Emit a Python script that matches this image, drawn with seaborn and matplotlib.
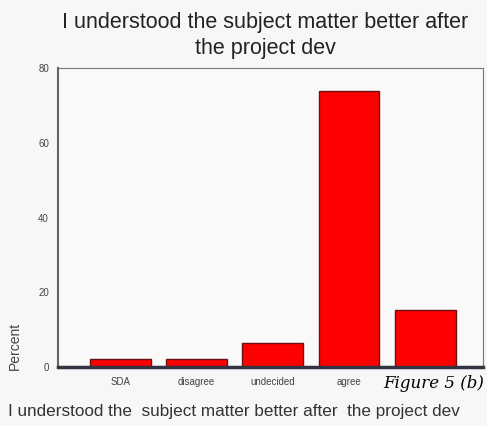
import matplotlib
matplotlib.use("Agg")
import matplotlib.pyplot as plt
import seaborn as sns
import pandas as pd

# responses (percent)
categories = ["SDA", "disagree", "undecided", "agree", "SA"]
tick_labels = ["SDA", "disagree", "undecided", "agree", ""]
percent = [2.2, 2.2, 6.5, 73.9, 15.2]

df = pd.DataFrame({"answer": categories, "Percent": percent})

sns.set_style("white")
plt.rcParams['font.family'] = ['Liberation Sans', 'DejaVu Sans']

fig = plt.figure(figsize=(4.87, 4.26), dpi=100)
fig.patch.set_facecolor('#f7f7f7')
ax = fig.add_axes([0.119, 0.1385, 0.873, 0.7015])
ax.set_facecolor('#f9f9f9')

sns.barplot(data=df, x="answer", y="Percent", color="#ff0000",
            saturation=1, width=0.8, edgecolor="#6b1010", linewidth=1, ax=ax)

ax.set_ylim(0, 80)
ax.set_xlim(-0.82, 4.76)
ax.set_yticks([0, 20, 40, 60, 80])
ax.set_xticks(range(len(categories)))
ax.set_xticklabels(tick_labels, fontsize=7)
ax.tick_params(axis='y', labelsize=7, length=3, width=2, direction='out', color='#111111')
ax.tick_params(axis='x', length=4, width=2, direction='out', color='#111111')
for lbl in ax.get_xticklabels() + ax.get_yticklabels():
    lbl.set_color('#444444')

for s in ['top', 'right']:
    ax.spines[s].set_color('#777777')
    ax.spines[s].set_linewidth(0.8)
ax.spines['left'].set_color('#666666')
ax.spines['left'].set_linewidth(1.5)
ax.spines['bottom'].set_color('#333344')
ax.spines['bottom'].set_linewidth(2.5)

ax.set_ylabel("Percent", fontsize=10, color='#444444')
ax.yaxis.set_label_coords(-0.085, 0.07)
ax.set_xlabel("")

fig.text(0.545, 0.972, "I understood the subject matter better after\nthe project dev",
         ha='center', va='top', fontsize=15.5, color='#222222', linespacing=1.3)
fig.text(0.48, 0.035, "I understood the  subject matter better after  the project dev",
         ha='center', va='center', fontsize=12.3, color='#333333')
fig.text(0.995, 0.1, "Figure 5 (b)", ha='right', va='center', fontsize=12,
         family='DejaVu Serif', style='italic', color='black')

fig.savefig("out.png", dpi=100, facecolor=fig.get_facecolor())
